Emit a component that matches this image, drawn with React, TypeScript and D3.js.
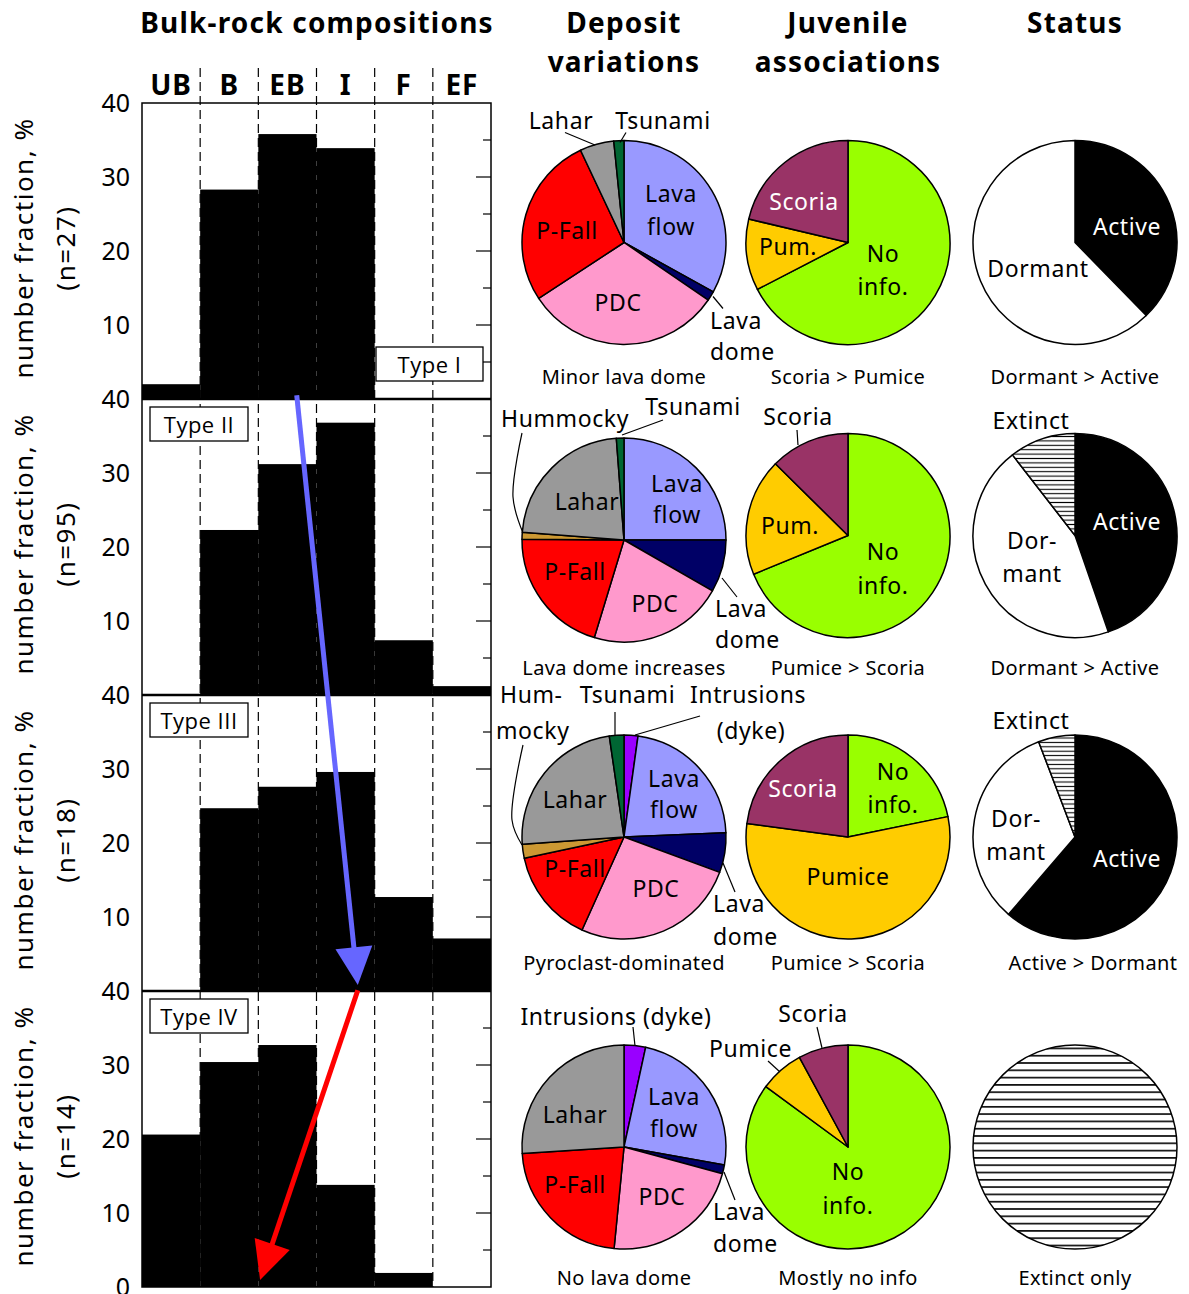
import React from "react";
import * as d3 from "d3";

// ---------------- DATA ----------------
const categories = ["UB", "B", "EB", "I", "F", "EF"];
const typeNames = ["Type I", "Type II", "Type III", "Type IV"];
const sampleCounts = [27, 95, 18, 14];
const bulkTypeI = [2.0, 28.3, 35.8, 33.9, 0, 0];
const bulkTypeII = [0, 22.3, 31.2, 36.8, 7.4, 1.2];
const bulkTypeIII = [0, 24.7, 27.6, 29.6, 12.7, 7.1];
const bulkTypeIV = [20.6, 30.4, 32.7, 13.8, 1.9, 0];
const yTickLabels = [40, 30, 20, 10];
const yMajorTicks = [10, 20, 30];
const yMinorTicks = [5, 15, 25, 35];

const depositTypes = ["Intrusions (dyke)", "Lava flow", "Lava dome", "PDC", "P-Fall", "Hummocky", "Lahar", "Tsunami"];
const depositTypeI = [0, 33.0, 1.5, 31.2, 27.2, 0, 5.4, 1.6];
const depositTypeII = [0, 25.0, 8.3, 21.4, 20.4, 1.1, 22.6, 1.2];
const depositTypeIII = [2.2, 22.1, 6.3, 26.1, 14.9, 2.2, 23.8, 2.3];
const depositTypeIV = [3.4, 24.4, 1.4, 22.3, 22.4, 0, 26.0, 0];

const juvenileTypes = ["No info.", "Pumice", "Scoria"];
const juvenileTypeI = [67.4, 11.3, 21.3];
const juvenileTypeII = [68.8, 18.6, 12.6];
const juvenileTypeIII = [21.8, 55.3, 22.9];
const juvenileTypeIV = [85.1, 7.0, 7.9];

const statusTypes = ["Active", "Dormant", "Extinct"];
const statusTypeI = [37.7, 62.3, 0];
const statusTypeII = [44.7, 44.8, 10.5];
const statusTypeIII = [61.3, 32.9, 5.8];
const statusTypeIV = [0, 0, 100];

const depositCaptions = ["Minor lava dome", "Lava dome increases", "Pyroclast-dominated", "No lava dome"];
const juvenileCaptions = ["Scoria > Pumice", "Pumice > Scoria", "Pumice > Scoria", "Mostly no info"];
const statusCaptions = ["Dormant > Active", "Dormant > Active", "Active > Dormant", "Extinct only"];

// trend arrows in data units (panel index, category-units x, value)
const blueArrow = { from: { panel: 1, u: 2.66, v: 40.5 }, to: { panel: 2, u: 3.71, v: 0.8 } };
const redArrow = { from: { panel: 3, u: 3.71, v: 40.1 }, to: { panel: 3, u: 2.03, v: 0.95 } };

// ---------------- STYLE / LAYOUT ----------------
const W = 1189;
const H = 1294;
const PL = 142;
const PR = 491;
const PT = 103;
const PH = 296;
const FONT = "'Noto Sans', 'Open Sans', sans-serif";
const BOX_FONT = "'Open Sans', 'Noto Sans', sans-serif";
const R = 102;

const depositColors = ["#9900ff", "#9999ff", "#000066", "#ff99cc", "#ff0000", "#cc9933", "#999999", "#006633"];
const juvenileColors = ["#99ff00", "#ffcc00", "#993366"];
const statusColors = ["#000000", "#ffffff", "HATCH"];

const colX = { deposit: 624, juvenile: 848, status: 1075 };
const depositCY = [242.5, 540, 837, 1147];
const otherCY = [242.5, 535.5, 837, 1147];

type Lab = { t: string; dx: number; dy: number; a?: string; c?: string };
type Leader = { pts: [number, number][]; curve?: boolean };

const depositLabels: Lab[][] = [
  [
    { t: "Lava", dx: 47, dy: -41 }, { t: "flow", dx: 47, dy: -7.5 },
    { t: "P-Fall", dx: -57, dy: -4 }, { t: "PDC", dx: -6, dy: 68 },
    { t: "Lahar", dx: -63, dy: -114 }, { t: "Tsunami", dx: 39, dy: -114 },
    { t: "Lava", dx: 86, dy: 86, a: "start" }, { t: "dome", dx: 86, dy: 117.5, a: "start" },
  ],
  [
    { t: "Hummocky", dx: -59, dy: -113 }, { t: "Tsunami", dx: 69, dy: -125 },
    { t: "Lahar", dx: -37, dy: -30 }, { t: "Lava", dx: 53, dy: -48 }, { t: "flow", dx: 53, dy: -17 },
    { t: "P-Fall", dx: -49, dy: 40 }, { t: "PDC", dx: 31, dy: 72 },
    { t: "Lava", dx: 91, dy: 77, a: "start" }, { t: "dome", dx: 91, dy: 108, a: "start" },
  ],
  [
    { t: "Hum-", dx: -124, dy: -134, a: "start" }, { t: "mocky", dx: -128, dy: -98, a: "start" },
    { t: "Tsunami", dx: 3.5, dy: -134 }, { t: "Intrusions", dx: 124, dy: -134 }, { t: "(dyke)", dx: 127, dy: -98 },
    { t: "Lahar", dx: -49, dy: -29 }, { t: "Lava", dx: 50, dy: -50 }, { t: "flow", dx: 50, dy: -19 },
    { t: "P-Fall", dx: -49, dy: 40 }, { t: "PDC", dx: 32, dy: 60 },
    { t: "Lava", dx: 89, dy: 75, a: "start" }, { t: "dome", dx: 89, dy: 108, a: "start" },
  ],
  [
    { t: "Intrusions (dyke)", dx: -8, dy: -122 },
    { t: "Lahar", dx: -49, dy: -24 }, { t: "Lava", dx: 50, dy: -42 }, { t: "flow", dx: 50, dy: -10 },
    { t: "P-Fall", dx: -49, dy: 46 }, { t: "PDC", dx: 38, dy: 58 },
    { t: "Lava", dx: 89, dy: 73, a: "start" }, { t: "dome", dx: 89, dy: 105, a: "start" },
  ],
];
const depositLeaders: Leader[][] = [
  [
    { pts: [[-59, -110], [-29, -97.5]] },
    { pts: [[2, -110], [-4, -100]] },
    { pts: [[89, 54], [99, 66]] },
  ],
  [
    { pts: [[-102, -107], [-111, -43], [-101, -7]], curve: true },
    { pts: [[39, -120], [-2, -105]] },
    { pts: [[98, 38], [113, 57]] },
  ],
  [
    { pts: [[-101, -92], [-112, -17], [-102, 8]], curve: true },
    { pts: [[-9, -125], [-9, -101]] },
    { pts: [[76, -121], [11, -102]] },
    { pts: [[99, 26], [111, 55]] },
  ],
  [
    { pts: [[9, -120], [11, -101]] },
    { pts: [[100, 25], [111, 53]] },
  ],
];
const juvenileLabels: Lab[][] = [
  [
    { t: "Scoria", dx: -44, dy: -32.5, c: "#fff" }, { t: "Pum.", dx: -60, dy: 12.5 },
    { t: "No", dx: 35, dy: 19 }, { t: "info.", dx: 35, dy: 52.5 },
  ],
  [
    { t: "Scoria", dx: -50, dy: -110.5 }, { t: "Pum.", dx: -58, dy: -2 },
    { t: "No", dx: 35, dy: 24.5 }, { t: "info.", dx: 35, dy: 58 },
  ],
  [
    { t: "Scoria", dx: -45, dy: -40, c: "#fff" }, { t: "No", dx: 45, dy: -57 }, { t: "info.", dx: 45, dy: -24 },
    { t: "Pumice", dx: 0, dy: 48 },
  ],
  [
    { t: "Scoria", dx: -35, dy: -125 }, { t: "Pumice", dx: -97.5, dy: -90 },
    { t: "No", dx: 0, dy: 33 }, { t: "info.", dx: 0, dy: 67 },
  ],
];
const juvenileLeaders: Leader[][] = [
  [],
  [{ pts: [[-51, -105.5], [-50, -90.5]] }],
  [],
  [{ pts: [[-31, -120], [-26, -99]] }, { pts: [[-80, -86], [-68, -75]] }],
];
const statusLabels: Lab[][] = [
  [{ t: "Active", dx: 52, dy: -7.5, c: "#fff" }, { t: "Dormant", dx: -37, dy: 34 }],
  [
    { t: "Extinct", dx: -44, dy: -107 }, { t: "Active", dx: 52, dy: -5.5, c: "#fff" },
    { t: "Dor-", dx: -43, dy: 13 }, { t: "mant", dx: -43, dy: 46 },
  ],
  [
    { t: "Extinct", dx: -44, dy: -108 }, { t: "Dor-", dx: -59, dy: -10 }, { t: "mant", dx: -59, dy: 23 },
    { t: "Active", dx: 52, dy: 30, c: "#fff" },
  ],
  [],
];
const captionDY = [141.5, 139.5, 133, 138];
const statusCaptionDX = [0, 0, 18, 0];
const hatchIds = ["hatchA", "hatchA", "hatchA", "hatchB"];

function arrow(x1: number, y1: number, x2: number, y2: number, len = 38, half = 18.5) {
  const dx = x2 - x1;
  const dy = y2 - y1;
  const L = Math.hypot(dx, dy);
  const ux = dx / L;
  const uy = dy / L;
  const bx = x2 - ux * len;
  const by = y2 - uy * len;
  const px = -uy;
  const py = ux;
  return {
    line: [x1, y1, bx + ux * 3, by + uy * 3],
    head: `${x2},${y2} ${bx + px * half},${by + py * half} ${bx - px * half},${by - py * half}`,
  };
}

function Pie(props: {
  cx: number; cy: number; values: number[]; colors: string[]; hatch: string;
  labels: Lab[]; leaders: Leader[]; caption: string; capDx: number; capDy: number;
}) {
  const { cx, cy, values, colors, hatch, labels, leaders, caption, capDx, capDy } = props;
  const pie = d3.pie<number>().sort(null).value((d) => d);
  const arcs = pie(values);
  const arcGen = d3.arc<d3.PieArcDatum<number>>().innerRadius(0).outerRadius(R);
  const lineGen = d3.line().curve(d3.curveCatmullRom.alpha(0.5));
  return (
    <g>
      <g transform={`translate(${cx},${cy})`}>
        {arcs.filter((a) => a.value > 0).map((a, i) => (
          <path
            key={i}
            d={arcGen(a) || ""}
            fill={colors[a.index] === "HATCH" ? `url(#${hatch})` : colors[a.index]}
            stroke="#000"
            strokeWidth={1.5}
            strokeLinejoin="round"
          />
        ))}
        {leaders.map((l, i) => (
          <path
            key={"l" + i}
            d={l.curve ? lineGen(l.pts) || "" : `M${l.pts.map((p) => p.join(",")).join("L")}`}
            fill="none"
            stroke="#000"
            strokeWidth={1.2}
          />
        ))}
        {labels.map((l, i) => (
          <text
            key={"t" + i}
            x={l.dx}
            y={l.dy}
            textAnchor={l.a || "middle"}
            fill={l.c || "#000"}
            fontSize={23}
            letterSpacing={0.6}
          >
            {l.t}
          </text>
        ))}
        <text x={capDx} y={capDy} textAnchor="middle" fontSize={20} letterSpacing={0.4}>
          {caption}
        </text>
      </g>
    </g>
  );
}

export default function App() {
  const bulkData = [bulkTypeI, bulkTypeII, bulkTypeIII, bulkTypeIV];
  const depositData = [depositTypeI, depositTypeII, depositTypeIII, depositTypeIV];
  const juvenileData = [juvenileTypeI, juvenileTypeII, juvenileTypeIII, juvenileTypeIV];
  const statusData = [statusTypeI, statusTypeII, statusTypeIII, statusTypeIV];

  const x = d3.scaleBand<string>().domain(categories).range([PL, PR]).paddingInner(0).paddingOuter(0);
  const xu = d3.scaleLinear().domain([0, categories.length]).range([PL, PR]);
  const yFor = (i: number) =>
    d3.scaleLinear().domain([0, 40]).range([PT + (i + 1) * PH, PT + i * PH]);
  const bottom = PT + 4 * PH;

  const pt = (p: { panel: number; u: number; v: number }) => [xu(p.u), yFor(p.panel)(p.v)];
  const [b1x, b1y] = pt(blueArrow.from);
  const [b2x, b2y] = pt(blueArrow.to);
  const [r1x, r1y] = pt(redArrow.from);
  const [r2x, r2y] = pt(redArrow.to);
  const ba = arrow(b1x, b1y, b2x, b2y);
  const ra = arrow(r1x, r1y, r2x, r2y);

  const boundaries = categories.slice(1).map((c) => x(c) as number);

  return (
    <svg
      width={W}
      height={H}
      style={{ position: "absolute", left: 0, top: 0, background: "#fff" }}
      fontFamily={FONT}
    >
      <defs>
        <pattern id="hatchA" patternUnits="userSpaceOnUse" width={10} height={4.4}>
          <rect width={10} height={4.4} fill="#fff" />
          <line x1={0} x2={10} y1={2.2} y2={2.2} stroke="#000" strokeWidth={1.1} />
        </pattern>
        <pattern id="hatchB" patternUnits="userSpaceOnUse" width={10} height={7.3}>
          <rect width={10} height={7.3} fill="#fff" />
          <line x1={0} x2={10} y1={3.6} y2={3.6} stroke="#000" strokeWidth={1.6} />
        </pattern>
      </defs>
      <rect width={W} height={H} fill="#fff" />

      {/* column titles */}
      <g fontWeight="bold" fontSize={28} textAnchor="middle" letterSpacing={1.2}>
        <text x={317} y={33}>Bulk-rock compositions</text>
        <text x={624} y={33}>Deposit</text>
        <text x={624} y={72}>variations</text>
        <text x={848} y={33}>Juvenile</text>
        <text x={848} y={72}>associations</text>
        <text x={1075} y={33}>Status</text>
      </g>

      {/* category headers */}
      <g fontWeight="bold" fontSize={28} textAnchor="middle" letterSpacing={1}>
        {categories.map((c) => (
          <text key={c} x={(x(c) as number) + x.bandwidth() / 2} y={95}>
            {c}
          </text>
        ))}
      </g>

      {/* dashed separators */}
      {boundaries.map((bx, i) => (
        <line key={i} x1={bx} x2={bx} y1={68} y2={bottom} stroke="#000" strokeWidth={1.2} strokeDasharray="9 5" />
      ))}

      {/* bars */}
      {bulkData.map((vals, pi) => {
        const y = yFor(pi);
        return (
          <g key={pi}>
            {vals.map((v, ci) =>
              v > 0 ? (
                <rect
                  key={ci}
                  x={x(categories[ci]) as number}
                  y={y(v)}
                  width={x.bandwidth()}
                  height={y(0) - y(v)}
                  fill="#000"
                />
              ) : null
            )}
          </g>
        );
      })}

      {/* frame, panel separators, right ticks */}
      <rect x={PL} y={PT} width={PR - PL} height={bottom - PT} fill="none" stroke="#000" strokeWidth={1.5} />
      {[1, 2, 3].map((i) => (
        <line key={i} x1={PL} x2={PR} y1={PT + i * PH} y2={PT + i * PH} stroke="#000" strokeWidth={2.5} />
      ))}
      {bulkData.map((_, pi) => {
        const y = yFor(pi);
        return (
          <g key={pi}>
            {yMajorTicks.map((t) => (
              <line key={"M" + t} x1={PR - 15} x2={PR} y1={y(t)} y2={y(t)} stroke="#000" strokeWidth={1.2} />
            ))}
            {yMinorTicks.map((t) => (
              <line key={"m" + t} x1={PR - 8} x2={PR} y1={y(t)} y2={y(t)} stroke="#000" strokeWidth={1.2} />
            ))}
          </g>
        );
      })}

      {/* left tick labels */}
      <g fontSize={25} textAnchor="end">
        {bulkData.map((_, pi) => {
          const y = yFor(pi);
          const labels = pi === bulkData.length - 1 ? [...yTickLabels, 0] : yTickLabels;
          return labels.map((t) => (
            <text key={pi + "-" + t} x={130} y={y(t)} dy="0.36em">
              {t}
            </text>
          ));
        })}
      </g>

      {/* y-axis titles */}
      {sampleCounts.map((n, pi) => {
        const cy = PT + pi * PH + PH / 2 - 3;
        return (
          <g key={pi} fontSize={26} textAnchor="middle" letterSpacing={1.5}>
            <text transform={`translate(24,${cy}) rotate(-90)`} dy="0.36em">
              number fraction, %
            </text>
            <text transform={`translate(66,${cy}) rotate(-90)`} dy="0.36em">
              {`(n=${n})`}
            </text>
          </g>
        );
      })}

      {/* type boxes */}
      {typeNames.map((t, pi) => {
        const isFirst = pi === 0;
        const bw = isFirst ? 107 : 98;
        const bx = isFirst ? 376 : 150;
        const by = isFirst ? PT + PH - 52 : PT + pi * PH + 8;
        return (
          <g key={t}>
            <rect x={bx} y={by} width={bw} height={34} fill="#fff" stroke="#000" strokeWidth={1.3} />
            <text
              x={bx + bw / 2}
              y={by + 26}
              textAnchor="middle"
              fontSize={22}
              letterSpacing={0.5}
              fontFamily={BOX_FONT}
            >
              {t}
            </text>
          </g>
        );
      })}

      {/* trend arrows */}
      <line x1={ba.line[0]} y1={ba.line[1]} x2={ba.line[2]} y2={ba.line[3]} stroke="#6666ff" strokeWidth={5} />
      <polygon points={ba.head} fill="#6666ff" />
      <line x1={ra.line[0]} y1={ra.line[1]} x2={ra.line[2]} y2={ra.line[3]} stroke="#ff0000" strokeWidth={5} />
      <polygon points={ra.head} fill="#ff0000" />

      {/* pies */}
      {depositData.map((vals, ri) => (
        <Pie
          key={"d" + ri}
          cx={colX.deposit}
          cy={depositCY[ri]}
          values={vals}
          colors={depositColors}
          hatch={hatchIds[ri]}
          labels={depositLabels[ri]}
          leaders={depositLeaders[ri]}
          caption={depositCaptions[ri]}
          capDx={0}
          capDy={captionDY[ri] + (otherCY[ri] - depositCY[ri])}
        />
      ))}
      {juvenileData.map((vals, ri) => (
        <Pie
          key={"j" + ri}
          cx={colX.juvenile}
          cy={otherCY[ri]}
          values={vals}
          colors={juvenileColors}
          hatch={hatchIds[ri]}
          labels={juvenileLabels[ri]}
          leaders={juvenileLeaders[ri]}
          caption={juvenileCaptions[ri]}
          capDx={0}
          capDy={captionDY[ri]}
        />
      ))}
      {statusData.map((vals, ri) => (
        <Pie
          key={"s" + ri}
          cx={colX.status}
          cy={otherCY[ri]}
          values={vals}
          colors={statusColors}
          hatch={hatchIds[ri]}
          labels={statusLabels[ri]}
          leaders={[]}
          caption={statusCaptions[ri]}
          capDx={statusCaptionDX[ri]}
          capDy={captionDY[ri]}
        />
      ))}
    </svg>
  );
}
